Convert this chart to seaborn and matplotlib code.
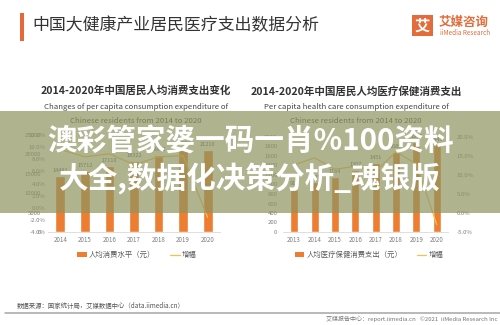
import numpy as np
import pandas as pd
import matplotlib
matplotlib.use("Agg")
import matplotlib.pyplot as plt
from matplotlib.patches import Rectangle, Patch
from matplotlib.lines import Line2D
from matplotlib.ticker import FuncFormatter, MultipleLocator
import seaborn as sns

# ---------------- data ----------------
years_left = ["2014", "2015", "2016", "2017", "2018", "2019", "2020"]
consumption = [14491, 15712, 17110, 18322, 19853, 21559, 21210]
consumption_growth = [9.6, 8.4, 8.9, 7.1, 8.4, 8.6, -1.6]

years_right = ["2013", "2014", "2015", "2016", "2017", "2018", "2019", "2020"]
health = [912, 1045, 1164, 1307, 1451, 1685, 1902, 1843]
health_growth = [12.7, 14.5, 11.5, 12.3, 11.0, 16.1, 12.9, -3.1]

title = "中国大健康产业居民医疗支出数据分析"
sub_left = ["2014-2020年中国居民人均消费支出变化",
            "Changes of per capita consumption expenditure of",
            "Chinese residents from 2014 to 2020"]
sub_right = ["2014-2020年中国居民人均医疗保健消费支出",
             "Per capita health care consumption expenditure of",
             "Chinese residents from 2014 to 2020"]
legend_left = ["人均消费水平（元）", "增幅"]
legend_right = ["人均医疗保健消费支出（元）", "增幅"]
source = "数据来源：国家统计局，艾媒数据中心（data.iimedia.cn）"
footer = "艾媒报告中心：report.iimedia.cn   ©2021  iiMedia Research Inc"
watermark = ["澳彩管家婆一码一肖%100资料", "大全,数据化决策分析_魂银版"]

# ---------------- style ----------------
sns.set_theme(style="white")
plt.rcParams['font.family'] = ['Noto Sans CJK SC', 'DejaVu Sans']
plt.rcParams['axes.unicode_minus'] = False

ORANGE = "#ED7D31"
GOLD = "#F2C14E"
TICK = "#7F7F7F"
W, H = 500, 325

fig = plt.figure(figsize=(5, 3.25), dpi=100)
fig.patch.set_facecolor("white")

def fx(px):
    return px / W

def fy(py):
    return 1 - py / H

pct = FuncFormatter(lambda v, p: f"{v:.1f}%")


def style_axis(ax):
    for s in ax.spines.values():
        s.set_visible(False)
    ax.tick_params(length=0, labelsize=4.3, colors=TICK)
    ax.set_xlabel("")
    ax.set_ylabel("")
    ax.grid(False)


# ---------------- left chart ----------------
axL = fig.add_axes([fx(47.6), fy(232), fx(220.4 - 47.6), (232 - 135) / H])
dfl = pd.DataFrame({"year": years_left, "value": consumption, "growth": consumption_growth})
sns.barplot(data=dfl, x="year", y="value", color=ORANGE, width=0.4,
            saturation=1, ax=axL)
axL.set_ylim(0, 25000)
axL.yaxis.set_major_locator(MultipleLocator(5000))
axL.yaxis.tick_right()
style_axis(axL)
axL.spines["bottom"].set_visible(True)
axL.spines["bottom"].set_color("#D9D9D9")
axL.spines["bottom"].set_linewidth(0.6)
axL.tick_params(axis="y", pad=4.5)
axL.tick_params(axis="x", pad=3, labelsize=4.5)
axL.bar_label(axL.containers[0], labels=[str(v) for v in consumption],
              padding=2, fontsize=4, color="#595959")

axL2 = axL.twinx()
sns.lineplot(data=dfl, x="year", y="growth", color=GOLD, linewidth=0.9, ax=axL2)
axL2.set_ylim(-4, 12)
axL2.yaxis.set_major_locator(MultipleLocator(2))
axL2.yaxis.set_major_formatter(pct)
axL2.yaxis.tick_left()
style_axis(axL2)
axL2.tick_params(axis="y", pad=1.5)

# ---------------- right chart ----------------
axR = fig.add_axes([fx(282.6), fy(232), fx(448.4 - 282.6), (232 - 137) / H])
dfr = pd.DataFrame({"year": years_right, "value": health, "growth": health_growth})
sns.barplot(data=dfr, x="year", y="value", color=ORANGE, width=0.4,
            saturation=1, ax=axR)
axR.set_ylim(0, 2000)
axR.yaxis.set_major_locator(MultipleLocator(200))
style_axis(axR)
axR.spines["bottom"].set_visible(True)
axR.spines["bottom"].set_color("#D9D9D9")
axR.spines["bottom"].set_linewidth(0.6)
axR.tick_params(axis="y", pad=3.8)
axR.tick_params(axis="x", pad=3, labelsize=4.5)
axR.bar_label(axR.containers[0], labels=[str(v) for v in health],
              padding=2, fontsize=4, color="#595959")

axR2 = axR.twinx()
sns.lineplot(data=dfr, x="year", y="growth", color=GOLD, linewidth=0.9, ax=axR2)
axR2.set_ylim(-5, 20)
axR2.yaxis.set_major_locator(MultipleLocator(5))
axR2.yaxis.set_major_formatter(pct)
axR2.yaxis.tick_right()
style_axis(axR2)
axR2.tick_params(axis="y", pad=6)

# ---------------- legends ----------------
for labels, cx in ((legend_left, 137), (legend_right, 369)):
    handles = [Patch(facecolor=ORANGE, edgecolor="none"),
               Line2D([0], [0], color=GOLD, lw=0.9)]
    fig.legend(handles, labels, loc="center", bbox_to_anchor=(fx(cx), fy(255)),
               ncol=2, frameon=False, fontsize=5.3, handlelength=1.3,
               handleheight=0.55, handletextpad=0.3, columnspacing=2.0,
               labelcolor="#595959", borderaxespad=0, borderpad=0)

# ---------------- header ----------------
fig.patches.append(Rectangle((fx(20), fy(41)), fx(4), 28 / H, transform=fig.transFigure,
                             facecolor="#E5673A", edgecolor="none"))
fig.text(fx(32), fy(25), title, fontsize=12.2, color="#333333", ha="left", va="center",
         fontweight="medium")

# logo
fig.patches.append(Rectangle((fx(412), fy(36)), fx(21), 21 / H, transform=fig.transFigure,
                             facecolor="#E36C3A", edgecolor="none"))
fig.text(fx(422.5), fy(25.5), "艾", fontsize=11, color="white", ha="center", va="center",
         fontweight="bold")
fig.text(fx(439), fy(22), "艾媒咨询", fontsize=9, color="#E36C3A", ha="left", va="center",
         fontweight="bold")
fig.text(fx(439.5), fy(33), "iiMedia Research", fontsize=4.6, color="#E36C3A",
         ha="left", va="center")

# subtitles
for lines, cx in ((sub_left, 136), (sub_right, 356)):
    fig.text(fx(cx), fy(91), lines[0], fontsize=7.6, color="#333333", ha="center",
             va="center", fontweight="bold")
    fig.text(fx(cx), fy(107), lines[1], fontsize=5.6, color="#444444", ha="center",
             va="center")
    fig.text(fx(cx), fy(121), lines[2], fontsize=5.6, color="#444444", ha="center",
             va="center")

# ---------------- footer ----------------
fig.text(fx(17), fy(306), source, fontsize=4.6, color="#555555", ha="left", va="center")
fig.lines.append(Line2D([fx(5), fx(500)], [fy(313), fy(313)], transform=fig.transFigure,
                        color="#A6A6A6", lw=1.1))
fig.text(fx(497), fy(319), footer, fontsize=4.3, color="#777777", ha="right", va="center")

# ---------------- watermark banner ----------------
fig.patches.append(Rectangle((0, fy(213)), 1, (213 - 111) / H, transform=fig.transFigure,
                             facecolor="#8E9460", alpha=0.7, edgecolor="none", zorder=10))
fig.text(0.5, fy(141), watermark[0], fontsize=21.3, color="white", ha="center",
         va="center", fontweight="heavy", zorder=11)
fig.text(0.5, fy(178), watermark[1], fontsize=21.3, color="white", ha="center",
         va="center", fontweight="heavy", zorder=11)

fig.savefig("out.png", dpi=100, facecolor="white")
